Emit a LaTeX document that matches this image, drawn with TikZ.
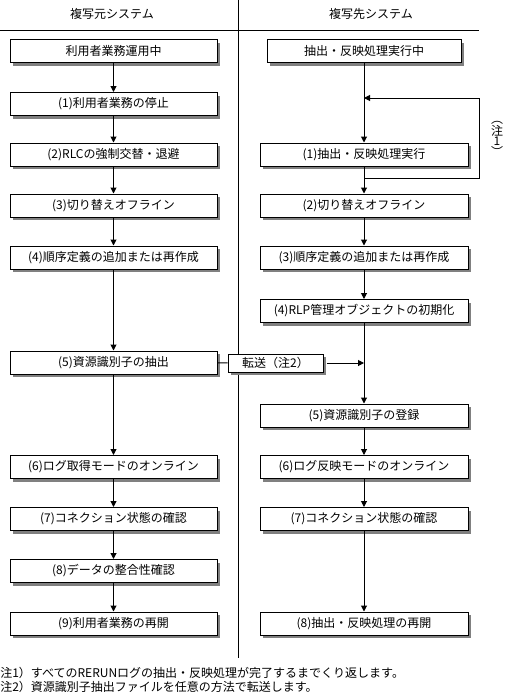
\documentclass[tikz,border=0pt]{standalone}
\usepackage{fontspec}
\setmainfont{Noto Sans CJK JP}
\usetikzlibrary{arrows.meta, shadows}

\begin{document}
\begin{tikzpicture}[
    x=0.75pt, y=-0.75pt,
    >={Triangle[length=4.5pt, width=4.5pt]},
    procbox/.style={rectangle, draw=black, line width=0.75pt, fill=white,
                    minimum height=17.25pt, inner sep=0pt,
                    font=\fontsize{9pt}{10pt}\selectfont,
                    drop shadow={shadow xshift=2.5pt, shadow yshift=-2.5pt,
                                 fill=black!50, opacity=1}},
    leftbox/.style={procbox, minimum width=155.25pt},
    rightbox/.style={procbox, minimum width=156pt},
    flow/.style={->, line width=0.75pt},
    plain/.style={line width=0.75pt},
    label/.style={font=\fontsize{9pt}{10pt}\selectfont, inner sep=0pt}
]
\useasboundingbox (0,0) rectangle (513,696);

% headings and lanes
\node[label] (srchead) at (112,14) {複写元システム};
\node[label] (dsthead) at (371,14) {複写先システム};
\draw[plain] (0,30) -- (479,30);
\draw[plain] (238,0) -- (238,658);

% source system
\node[leftbox] (s0) at (113.5,51)    {利用者業務運用中};
\node[leftbox] (s1) at (113.5,104)   {(1)利用者業務の停止};
\node[leftbox] (s2) at (113.5,154.5) {(2)RLCの強制交替・退避};
\node[leftbox] (s3) at (113.5,205.5) {(3)切り替えオフライン};
\node[leftbox] (s4) at (113.5,257.5) {(4)順序定義の追加または再作成};
\node[leftbox] (s5) at (113.5,362.5) {(5)資源識別子の抽出};
\node[leftbox] (s6) at (113.5,467)   {(6)ログ取得モードのオンライン};
\node[leftbox] (s7) at (113.5,519)   {(7)コネクション状態の確認};
\node[leftbox] (s8) at (113.5,571)   {(8)データの整合性確認};
\node[leftbox] (s9) at (113.5,623.5) {(9)利用者業務の再開};
\foreach \a/\b in {s0/s1,s1/s2,s2/s3,s3/s4,s4/s5,s5/s6,s6/s7,s7/s8,s8/s9} {
    \draw[flow] (\a) -- (\b);
}

% target system
\node[procbox, minimum width=145.5pt] (d0) at (364,51) {抽出・反映処理実行中};
\node[rightbox] (d1) at (364,154.5) {(1)抽出・反映処理実行};
\node[rightbox] (d2) at (364,205.5) {(2)切り替えオフライン};
\node[rightbox] (d3) at (364,257.5) {(3)順序定義の追加または再作成};
\node[rightbox] (d4) at (364,311)   {(4)RLP管理オブジェクトの初期化};
\node[rightbox] (d5) at (364,415.5) {(5)資源識別子の登録};
\node[rightbox] (d6) at (364,467)   {(6)ログ反映モードのオンライン};
\node[rightbox] (d7) at (364,519)   {(7)コネクション状態の確認};
\node[rightbox] (d8) at (364,623.5) {(8)抽出・反映処理の再開};
\foreach \a/\b in {d0/d1,d1/d2,d2/d3,d3/d4,d4/d5,d5/d6,d6/d7,d7/d8} {
    \draw[flow] (\a) -- (\b);
}

% repeat loop (note 1)
\coordinate (loopout) at (364,178);
\coordinate (loopin) at (364,98);
\coordinate (loopedge) at (479,98);
\draw[flow] (loopout) -- (loopout -| loopedge) -- (loopedge) -- (loopin);
\node[label, align=center, font=\fontsize{9pt}{7.5pt}\selectfont]
    (note1mark) at (497,139) {︵\\注\\1\\︶};

% transfer (note 2)
\node[procbox, minimum width=71.25pt, minimum height=13.5pt] (xfer) at (275.5,363) {転送（注2）};
\coordinate (xferin) at (364,363);
\draw[plain] (s5) -- (xfer);
\draw[flow, shorten <=2.5pt] (xfer) -- (xferin);

% notes
\node[label, anchor=west] (note1) at (0,673) {注1）すべてのRERUNログの抽出・反映処理が完了するまでくり返します。};
\node[label, anchor=west] (note2) at (0,687) {注2）資源識別子抽出ファイルを任意の方法で転送します。};
\end{tikzpicture}
\end{document}
